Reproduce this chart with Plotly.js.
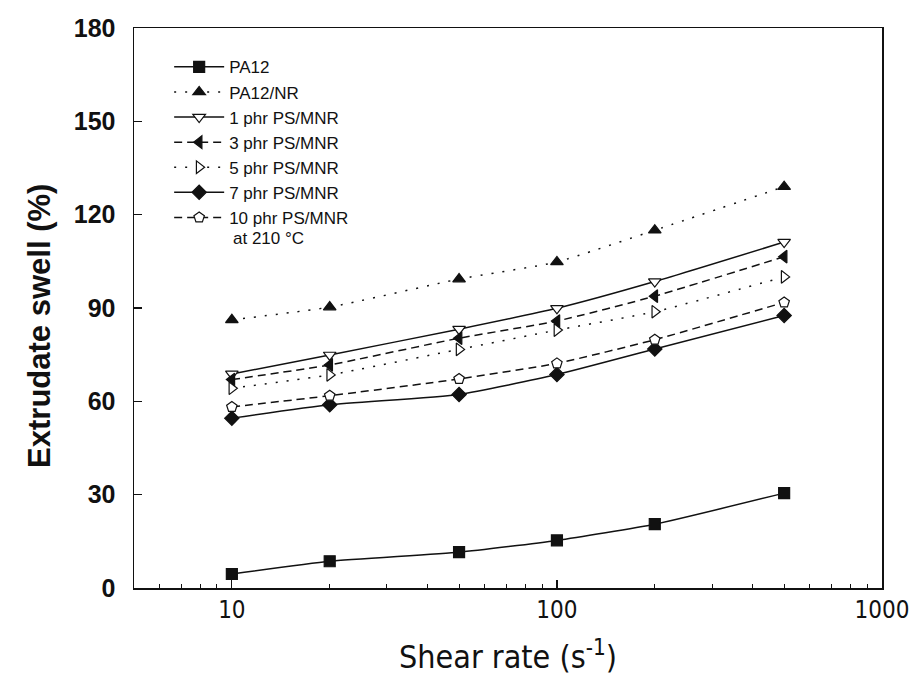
<!DOCTYPE html>
<html>
<head>
<meta charset="utf-8">
<script src="https://cdn.plot.ly/plotly-3.0.1.min.js"></script>
<style>html,body{margin:0;padding:0;background:#fff;}#chart{width:916px;height:678px;}</style>
</head>
<body>
<div id="chart"></div>
<script>
var shearRate = [10, 20, 50, 100, 200, 500];
var seriesNames = ["PA12", "PA12/NR", "1 phr PS/MNR", "3 phr PS/MNR", "5 phr PS/MNR", "7 phr PS/MNR", "10 phr PS/MNR"];
var pa12      = [4.5, 8.6, 11.5, 15.3, 20.5, 30.5];
var pa12nr    = [86.2, 90.3, 99.3, 104.8, 115, 129];
var phr1      = [68.8, 74.9, 83.2, 89.9, 98.5, 111.2];
var phr3      = [67.0, 71.7, 80.3, 85.8, 93.8, 106.5];
var phr5      = [64.2, 68.5, 76.7, 82.9, 88.8, 100];
var phr7      = [54.6, 58.9, 62.2, 68.6, 76.8, 87.6];
var phr10     = [58.2, 61.8, 67.2, 72.2, 79.8, 91.8];
var yTicks = [0, 30, 60, 90, 120, 150, 180];
var xTicks = [10, 100, 1000];
var xTickLabels = ["10", "100", "1000"];
var note = "at 210 \u00B0C";
var xTitle = "Shear rate (s<sup>-1</sup>)";
var yTitle = "Extrudate swell (%)";

var narrow = "Liberation Sans Narrow, DejaVu Sans Condensed, Arial Narrow, Liberation Sans, Arial, sans-serif";
var sans = "Liberation Sans, Arial, Helvetica, sans-serif";

function tr(name, y, sym, fill, dash) {
  return {
    x: shearRate, y: y, name: name, type: "scatter", mode: "lines+markers",
    line: {color: "#111", width: 1.5, dash: dash, shape: "spline", smoothing: 0.5},
    marker: {symbol: sym, size: 11, color: fill, line: {color: "#111", width: 1.2}}
  };
}

var data = [
  tr(seriesNames[0], pa12,   "square",         "#111", "solid"),
  tr(seriesNames[1], pa12nr, "triangle-up",    "#111", "2px,9px"),
  tr(seriesNames[2], phr1,   "triangle-down",  "#fff", "solid"),
  tr(seriesNames[3], phr3,   "triangle-left",  "#111", "8px,5px"),
  tr(seriesNames[4], phr5,   "triangle-right", "#fff", "2px,9px"),
  tr(seriesNames[5], phr7,   "diamond",        "#111", "solid"),
  tr(seriesNames[6], phr10,  "pentagon",       "#fff", "8px,5px")
];

var layout = {
  width: 916, height: 678,
  margin: {l: 134, r: 34, t: 28, b: 90},
  paper_bgcolor: "#fff", plot_bgcolor: "#fff",
  showlegend: true,
  legend: {
    x: 0.047, y: 0.962, xanchor: "left", yanchor: "top",
    bgcolor: "rgba(0,0,0,0)", borderwidth: 0,
    font: {family: sans, size: 17, color: "#111"},
    itemwidth: 50, tracegroupgap: 0
  },
  xaxis: {
    type: "log", range: [Math.log10(5), 3],
    tickvals: xTicks, ticktext: xTickLabels,
    ticks: "inside", ticklen: 8, tickwidth: 1.2, tickcolor: "#111",
    minor: {dtick: "D1", ticks: "inside", ticklen: 4, tickwidth: 1, tickcolor: "#111", showgrid: false},
    showline: true, linecolor: "#111", linewidth: 1.5, mirror: true,
    showgrid: false, zeroline: false,
    tickfont: {family: narrow, size: 24, color: "#111"},
    title: {text: xTitle, font: {family: narrow, size: 32, color: "#111"}, standoff: 22}
  },
  yaxis: {
    range: [0, 180], tickvals: yTicks,
    ticks: "inside", ticklen: 8, tickwidth: 1.2, tickcolor: "#111",
    ticklabelstandoff: 12,
    showline: true, linecolor: "#111", linewidth: 1.5, mirror: true,
    showgrid: false, zeroline: false,
    tickfont: {family: sans, size: 25, color: "#111", weight: "bold"}
  },
  annotations: [{
    text: note, xref: "paper", yref: "paper", x: 0.1297, y: 0.624,
    xanchor: "left", yanchor: "middle", showarrow: false,
    font: {family: sans, size: 17, color: "#111"}
  }, {
    text: yTitle, xref: "paper", yref: "paper", x: -0.1257, y: 0.468,
    xanchor: "center", yanchor: "middle", showarrow: false, textangle: -90,
    font: {family: sans, size: 31, color: "#111", weight: "bold"}
  }]
};

Plotly.newPlot("chart", data, layout, {displayModeBar: false, staticPlot: true});
</script>
</body>
</html>
